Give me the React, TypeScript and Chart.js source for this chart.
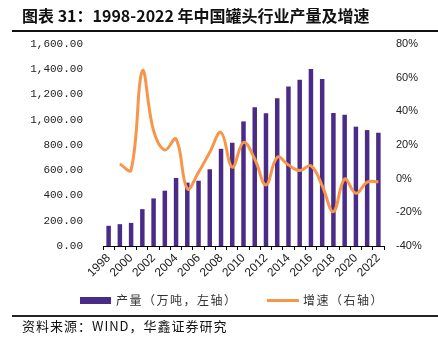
import React, { useEffect, useRef } from "react";
import { Chart, registerables } from "chart.js";

Chart.register(...registerables);

const years = [
  "1998", "1999", "2000", "2001", "2002", "2003", "2004", "2005", "2006", "2007",
  "2008", "2009", "2010", "2011", "2012", "2013", "2014", "2015", "2016", "2017",
  "2018", "2019", "2020", "2021", "2022",
];
const output = [
  160, 173, 183, 292, 377, 438, 539, 502, 517, 608,
  770, 818, 987, 1099, 1051, 1170, 1263, 1316, 1401, 1322,
  1053, 1040, 945, 918, 897,
];
const growth = [
  null, 8.7, 5.2, 64, 28.5, 17, 23.6, -6, 3.8, 15.7,
  27.5, 6.8, 21.6, 11.7, -3.7, 12.7, 8.1, 4.8, 7.7, -4.2,
  -19.6, -0.2, -8.7, -2.1, -1.8,
];
const leftTicks = { min: 0, max: 1600, step: 200 };
const rightTicks = { min: -40, max: 80, step: 20 };

const PURPLE = "#4A2C88";
const ORANGE = "#F7964A";
const TEXT = "#222";

export default function App() {
  const ref = useRef<HTMLCanvasElement | null>(null);

  useEffect(() => {
    if (!ref.current) return;
    const chart = new Chart(ref.current, {
      type: "bar",
      data: {
        labels: years,
        datasets: [
          {
            type: "line",
            label: "增速（右轴）",
            data: growth,
            yAxisID: "y1",
            borderColor: ORANGE,
            backgroundColor: ORANGE,
            borderWidth: 3,
            pointRadius: 0,
            tension: 0.4,
            spanGaps: true,
            order: 0,
          } as any,
          {
            type: "bar",
            label: "产量（万吨，左轴）",
            data: output,
            yAxisID: "y",
            backgroundColor: PURPLE,
            barPercentage: 0.4,
            categoryPercentage: 1,
            order: 1,
          },
        ],
      },
      options: {
        responsive: false,
        animation: false,
        devicePixelRatio: 1,
        layout: { padding: { top: 44, left: 0, right: 0, bottom: 0 } },
        plugins: { legend: { display: false }, tooltip: { enabled: false } },
        scales: {
          x: {
            grid: {
              display: true,
              drawOnChartArea: false,
              drawTicks: true,
              tickLength: 4,
              color: "#000",
              offset: true,
            },
            border: { display: true, color: "#000", width: 1 },
            ticks: {
              autoSkip: false,
              maxRotation: 45,
              minRotation: 45,
              padding: 1,
              color: TEXT,
              font: { family: "Liberation Sans", size: 12 },
              callback: (_v: any, i: number) => (i % 2 === 0 ? years[i] : ""),
            },
            afterFit: (s: any) => {
              s.height = 99;
            },
          },
          y: {
            position: "left",
            min: leftTicks.min,
            max: leftTicks.max,
            grid: { display: false, drawTicks: false },
            border: { display: false },
            ticks: {
              stepSize: leftTicks.step,
              padding: 20,
              color: TEXT,
              font: { family: "Liberation Mono", size: 11 },
              callback: (v: any) =>
                Number(v).toLocaleString("en-US", {
                  minimumFractionDigits: 2,
                  maximumFractionDigits: 2,
                }),
            },
            afterFit: (s: any) => {
              s.width = 103;
            },
          },
          y1: {
            position: "right",
            min: rightTicks.min,
            max: rightTicks.max,
            grid: { display: false, drawTicks: false },
            border: { display: false },
            ticks: {
              stepSize: rightTicks.step,
              padding: 12,
              color: TEXT,
              font: { family: "Liberation Sans", size: 11 },
              callback: (v: any) => `${v}%`,
            },
            afterFit: (s: any) => {
              s.width = 54;
            },
          },
        },
      } as any,
    });
    return () => chart.destroy();
  }, []);

  const cjk = '"Noto Sans CJK SC", "Noto Sans", sans-serif';

  return (
    <div
      style={{
        position: "fixed",
        left: 0,
        top: 0,
        width: 438,
        height: 345,
        background: "#fff",
        overflow: "hidden",
      }}
    >
      <canvas
        ref={ref}
        width={438}
        height={345}
        style={{ position: "absolute", left: 0, top: 0, width: 438, height: 345 }}
      />
      <div
        style={{
          position: "absolute",
          left: 22,
          top: 5,
          fontFamily: cjk,
          fontWeight: 700,
          fontSize: 16,
          lineHeight: "21px",
          color: "#111",
          whiteSpace: "nowrap",
        }}
      >
        图表 31：1998-2022 年中国罐头行业产量及增速
      </div>
      <div style={{ position: "absolute", left: 12, top: 30, width: 426, height: 1.5, background: "#111" }} />
      <div style={{ position: "absolute", left: 80, top: 297, width: 31, height: 7, background: PURPLE }} />
      <div
        style={{
          position: "absolute",
          left: 116,
          top: 291,
          fontFamily: cjk,
          fontSize: 12,
          letterSpacing: 1.5,
          lineHeight: "18px",
          color: "#333",
          whiteSpace: "nowrap",
        }}
      >
        产量（万吨，左轴）
      </div>
      <div style={{ position: "absolute", left: 267, top: 299, width: 32, height: 3, background: ORANGE }} />
      <div
        style={{
          position: "absolute",
          left: 303,
          top: 291,
          fontFamily: cjk,
          fontSize: 12,
          letterSpacing: 1.5,
          lineHeight: "18px",
          color: "#333",
          whiteSpace: "nowrap",
        }}
      >
        增速（右轴）
      </div>
      <div style={{ position: "absolute", left: 12, top: 315, width: 426, height: 1.5, background: "#222" }} />
      <div
        style={{
          position: "absolute",
          left: 22,
          top: 317,
          fontFamily: cjk,
          fontSize: 13,
          letterSpacing: 1,
          lineHeight: "17px",
          color: "#111",
          whiteSpace: "nowrap",
        }}
      >
        资料来源：WIND，华鑫证券研究
      </div>
    </div>
  );
}
